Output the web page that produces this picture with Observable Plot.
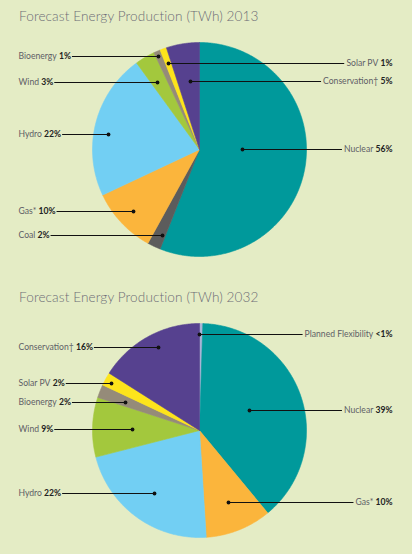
<!DOCTYPE html>
<html>
<head>
<meta charset="utf-8">
<script src="https://cdn.jsdelivr.net/npm/d3@7"></script>
<script src="https://cdn.jsdelivr.net/npm/@observablehq/plot@0.6"></script>
<style>
  html, body { margin: 0; padding: 0; }
  body { width: 412px; height: 554px; background: #e4ecc5; position: relative; overflow: hidden; font-family: Lato, "Open Sans", sans-serif; }
  .title { position: absolute; left: 19px; font-size: 13.6px; font-weight: 300; color: #6d6d76; white-space: nowrap; letter-spacing: 0.1px; }
  .panel { position: absolute; left: 0; }
</style>
</head>
<body>
<div class="title" style="top:8px">Forecast Energy Production (TWh) 2013</div>
<div class="title" style="top:289px">Forecast Energy Production (TWh) 2032</div>
<div id="p1" class="panel" style="top:28px"></div>
<div id="p2" class="panel" style="top:310px"></div>
<script>
// ---- Data ----
const categories2013 = ["Nuclear", "Coal", "Gas*", "Hydro", "Wind", "Bioenergy", "Solar PV", "Conservation\u2020"];
const values2013 = [56, 2, 10, 22, 3, 1, 1, 5];
const labels2013 = ["56%", "2%", "10%", "22%", "3%", "1%", "1%", "5%"];

const categories2032 = ["Planned Flexibility", "Nuclear", "Gas*", "Hydro", "Wind", "Bioenergy", "Solar PV", "Conservation\u2020"];
const values2032 = [0.5, 38.5, 10, 22, 9, 2, 2, 16];
const labels2032 = ["<1%", "39%", "10%", "22%", "9%", "2%", "2%", "16%"];

// ---- Styles / layout (kept separate from data) ----
const colorOf = {
  "Nuclear": "#00999b", "Coal": "#5c5c5c", "Gas*": "#fbb53c", "Hydro": "#72cff3",
  "Wind": "#a3c83d", "Bioenergy": "#958b79", "Solar PV": "#fde41b",
  "Conservation\u2020": "#56418f", "Planned Flexibility": "#a9b3d6"
};
// annotation layout: label row y (page px), dot x (page px), side of label
const layout2013 = {
  "Nuclear": [149, 242, "R"], "Coal": [235, 162, "L"], "Gas*": [211, 133, "L"],
  "Hydro": [134, 108, "L"], "Wind": [82, 157, "L"], "Bioenergy": [56, 158, "L"],
  "Solar PV": [63, 168, "R"], "Conservation\u2020": [81, 190, "R"]
};
const layout2032 = {
  "Planned Flexibility": [334, 199, "R"], "Nuclear": [410, 249, "R"], "Gas*": [502, 228, "R"],
  "Hydro": [493, 154, "L"], "Wind": [429, 132, "L"], "Bioenergy": [402, 125, "L"],
  "Solar PV": [383, 111, "L"], "Conservation\u2020": [347, 158, "L"]
};

const FONT = "Lato, 'Open Sans', sans-serif";
const FS = 8.6;
const ctx = document.createElement("canvas").getContext("2d");
function textW(t, weight) { ctx.font = `${weight} ${FS}px ${FONT}`; return ctx.measureText(t).width; }

function drawPie(el, cats, vals, labs, lay, cx, cy, R, top, h) {
  const arcs = d3.pie().sort(null).value(d => d)(vals);
  const slices = [];
  arcs.forEach((a, i) => {
    const name = cats[i];
    const steps = Math.max(2, Math.ceil((a.endAngle - a.startAngle) / (Math.PI / 360)));
    slices.push({name, color: colorOf[name], x: cx, y: cy});
    for (let k = 0; k <= steps; k++) {
      const t = a.startAngle + (a.endAngle - a.startAngle) * k / steps;
      slices.push({name, color: colorOf[name], x: cx + R * Math.sin(t), y: cy - R * Math.cos(t)});
    }
    slices.push({name, color: colorOf[name], x: cx, y: cy});
  });

  const leaders = [], dots = [], namesL = [], pctsL = [], namesR = [], pctsR = [];
  const space = textW(" ", 400);
  cats.forEach((name, i) => {
    const [ly, dx, side] = lay[name];
    const pct = labs[i];
    const wPct = textW(pct, 700);
    const wName = textW(name, 400);
    if (side === "L") {
      const x0 = 18;
      namesL.push({x: x0, y: ly, t: name});
      pctsL.push({x: x0 + wName + space, y: ly, t: pct});
      leaders.push({x1: x0 + wName + space + wPct + 1.5, x2: dx, y: ly});
    } else {
      const x1 = 392;
      pctsR.push({x: x1, y: ly, t: pct});
      namesR.push({x: x1 - wPct - space, y: ly, t: name});
      leaders.push({x1: dx, x2: x1 - wPct - space - wName - 1.5, y: ly});
    }
    dots.push({x: dx, y: ly});
  });

  const nameStyle = {x: "x", y: "y", text: "t", fontSize: FS, fontWeight: 400, fill: "#5e5e66", fontFamily: FONT};
  const pctStyle = {x: "x", y: "y", text: "t", fontSize: FS, fontWeight: 700, fill: "#222", fontFamily: FONT};

  const chart = Plot.plot({
    width: 412, height: h, margin: 0,
    x: {domain: [0, 412], range: [0, 412], axis: null},
    y: {domain: [top, top + h], range: [0, h], axis: null},
    color: {type: "identity"},
    style: {background: "transparent", overflow: "visible"},
    marks: [
      Plot.line(slices, {x: "x", y: "y", z: "name", fill: "color", stroke: "color", strokeWidth: 0.6}),
      Plot.ruleY(leaders, {y: "y", x1: "x1", x2: "x2", stroke: "#111", strokeWidth: 1}),
      Plot.dot(dots, {x: "x", y: "y", r: 1.9, fill: "#111", stroke: "none"}),
      Plot.text(namesL, {...nameStyle, textAnchor: "start"}),
      Plot.text(pctsL, {...pctStyle, textAnchor: "start"}),
      Plot.text(namesR, {...nameStyle, textAnchor: "end"}),
      Plot.text(pctsR, {...pctStyle, textAnchor: "end"})
    ]
  });
  el.appendChild(chart);
}

drawPie(document.getElementById("p1"), categories2013, values2013, labels2013, layout2013, 199, 149, 107, 28, 250);
drawPie(document.getElementById("p2"), categories2032, values2032, labels2032, layout2032, 199, 430, 107, 310, 244);
</script>
</body>
</html>
